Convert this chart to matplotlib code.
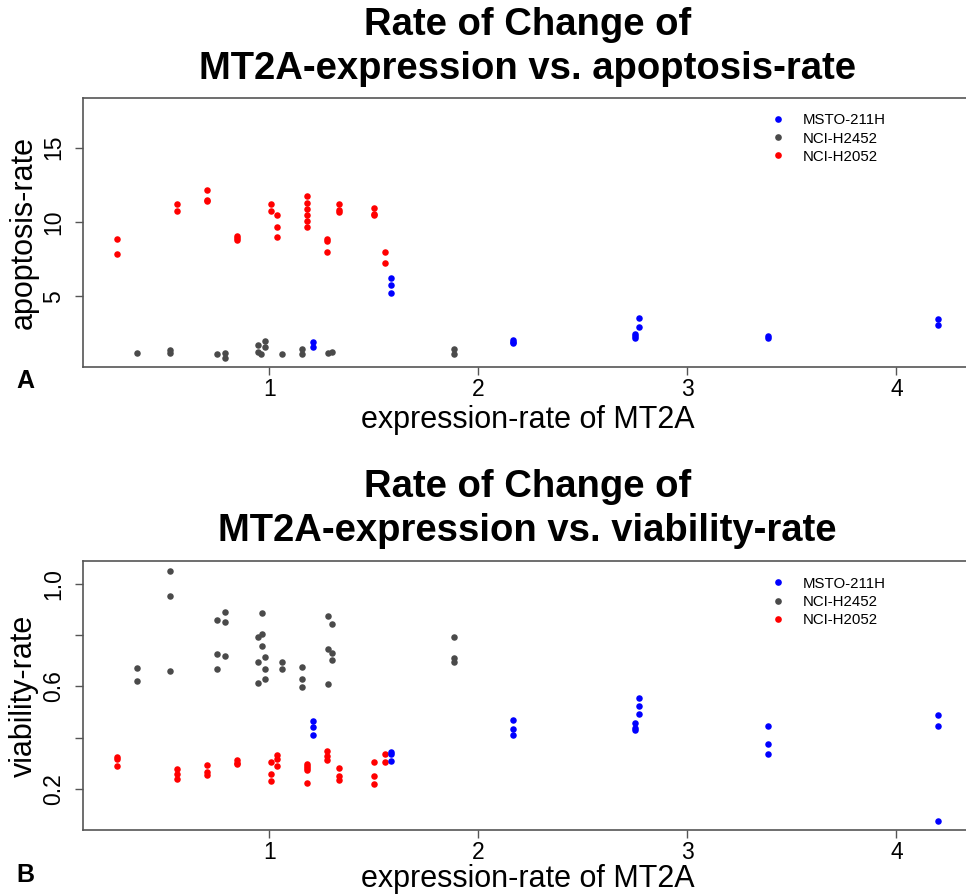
import numpy as np
import matplotlib
matplotlib.use("Agg")
import matplotlib.pyplot as plt
from matplotlib.lines import Line2D

plt.rcParams['font.family'] = ['Liberation Sans', 'DejaVu Sans']

groups = ["MSTO-211H", "NCI-H2452", "NCI-H2052"]
colors = ["#0000FF", "#4A4A4A", "#FF0000"]

# panel A: apoptosis-rate
apop_x_msto = [1.208, 1.208, 1.581, 1.581, 1.581, 2.166, 2.166, 2.166, 2.75, 2.75, 2.75,
               2.769, 2.769, 3.386, 3.386, 4.198, 4.198]
apop_y_msto = [1.92, 1.61, 6.2, 5.73, 5.2, 2.05, 1.95, 1.85, 2.45, 2.3, 2.2,
               3.56, 2.93, 2.35, 2.2, 3.45, 3.09]
apop_x_h2452 = [0.367, 0.525, 0.525, 0.748, 0.789, 0.789, 0.944, 0.944, 0.962, 0.98, 0.98,
                1.061, 1.157, 1.157, 1.282, 1.298, 1.882, 1.882]
apop_y_h2452 = [1.2, 1.35, 1.2, 1.12, 1.2, 0.87, 1.7, 1.27, 1.12, 2.01, 1.57,
                1.12, 1.43, 1.1, 1.16, 1.25, 1.45, 1.12]
apop_x_h2052 = [0.27, 0.27, 0.56, 0.56, 0.70, 0.70, 0.70, 0.845, 0.845, 0.845,
                1.008, 1.008, 1.035, 1.035, 1.035, 1.182, 1.182, 1.182, 1.182, 1.182, 1.182,
                1.276, 1.276, 1.276, 1.332, 1.332, 1.332, 1.501, 1.501, 1.501, 1.554, 1.554]
apop_y_h2052 = [8.85, 7.86, 11.2, 10.75, 12.15, 11.5, 11.42, 9.07, 8.9, 8.75,
                11.2, 10.71, 10.44, 9.66, 8.96, 11.76, 11.29, 10.87, 10.44, 10.04, 9.66,
                8.85, 8.69, 8.0, 11.2, 10.8, 10.68, 10.93, 10.53, 10.44, 7.95, 7.21]

# panel B: viability-rate
via_x_msto = [1.208, 1.208, 1.208, 1.581, 1.581, 1.581, 2.166, 2.166, 2.166, 2.75, 2.75, 2.75,
              2.769, 2.769, 2.769, 3.386, 3.386, 3.386, 4.198, 4.198, 4.198]
via_y_msto = [0.465, 0.441, 0.411, 0.345, 0.335, 0.309, 0.47, 0.433, 0.41, 0.456, 0.436, 0.428,
              0.556, 0.525, 0.491, 0.444, 0.376, 0.336, 0.487, 0.444, 0.075]
via_x_h2452 = [0.367, 0.367, 0.525, 0.525, 0.525, 0.748, 0.748, 0.748, 0.789, 0.789, 0.789,
               0.944, 0.944, 0.944, 0.963, 0.963, 0.963, 0.98, 0.98, 0.98, 1.061, 1.061,
               1.155, 1.155, 1.155, 1.282, 1.282, 1.282, 1.298, 1.298, 1.298, 1.882, 1.882, 1.882]
via_y_h2452 = [0.671, 0.62, 1.052, 0.953, 0.66, 0.861, 0.728, 0.669, 0.891, 0.851, 0.719,
               0.793, 0.694, 0.613, 0.886, 0.805, 0.757, 0.716, 0.667, 0.629, 0.696, 0.667,
               0.676, 0.63, 0.599, 0.877, 0.745, 0.608, 0.846, 0.732, 0.703, 0.793, 0.711, 0.696]
via_x_h2052 = [0.27, 0.27, 0.27, 0.56, 0.56, 0.56, 0.70, 0.70, 0.70, 0.845, 0.845, 0.845,
               1.008, 1.008, 1.008, 1.035, 1.035, 1.035, 1.182, 1.182, 1.182, 1.182, 1.182,
               1.276, 1.276, 1.276, 1.332, 1.332, 1.332, 1.501, 1.501, 1.501, 1.554, 1.554]
via_y_h2052 = [0.325, 0.315, 0.288, 0.277, 0.259, 0.238, 0.294, 0.266, 0.252, 0.311, 0.302, 0.295,
               0.306, 0.257, 0.229, 0.332, 0.317, 0.288, 0.298, 0.29, 0.28, 0.272, 0.222,
               0.347, 0.328, 0.312, 0.282, 0.251, 0.234, 0.303, 0.248, 0.219, 0.337, 0.306]

panels = [
    dict(title="Rate of Change of\nMT2A-expression vs. apoptosis-rate", ylabel="apoptosis-rate",
         letter="A", letter_y=381, pos=[0.0859, 0.5904, 0.92, 0.3002], ylim=(0.24, 18.33),
         yticks=[5, 10, 15], ylabels=["5", "10", "15"], leg_y=0.8735, xpad=3,
         xs=[apop_x_msto, apop_x_h2452, apop_x_h2052], ys=[apop_y_msto, apop_y_h2452, apop_y_h2052]),
    dict(title="Rate of Change of\nMT2A-expression vs. viability-rate", ylabel="viability-rate",
         letter="B", letter_y=875, pos=[0.0859, 0.0733, 0.92, 0.3009], ylim=(0.037, 1.092),
         yticks=[0.2, 0.4, 0.6, 0.8, 1.0], ylabels=["0.2", "", "0.6", "", "1.0"], leg_y=0.3565, xpad=0,
         xs=[via_x_msto, via_x_h2452, via_x_h2052], ys=[via_y_msto, via_y_h2452, via_y_h2052]),
]

fig = plt.figure(figsize=(9.66, 8.96), dpi=100)

for p in panels:
    ax = fig.add_axes(p["pos"])
    for i in [1, 2, 0]:
        ax.scatter(p["xs"][i], p["ys"][i], s=22, color=colors[i], linewidths=0, zorder=3)
    ax.set_xlim(0.109, 4.36)
    ax.set_ylim(*p["ylim"])
    ax.set_xticks([1, 2, 3, 4])
    ax.set_yticks(p["yticks"])
    ax.set_yticklabels(p["ylabels"], rotation=90, va="center")
    ax.tick_params(direction="out", length=6, width=1, color="#555555", labelsize=16.5)
    ax.tick_params(axis="x", pad=2)
    ax.tick_params(axis="y", pad=7)
    for sp in ax.spines.values():
        sp.set_color("#555555")
        sp.set_linewidth(1.2)
    ax.set_xlabel("expression-rate of MT2A", fontsize=22, labelpad=p["xpad"])
    ax.set_ylabel(p["ylabel"], fontsize=22, labelpad=2)
    ax.set_title(p["title"], fontsize=27.5, fontweight="bold", pad=14, linespacing=1.28)
    handles = [Line2D([], [], ls="", marker="o", markersize=4.8, markeredgewidth=0, color=c)
               for c in colors]
    ax.legend(handles=handles, labels=groups, loc="upper left",
              bbox_to_anchor=(0.798, p["leg_y"]), bbox_transform=fig.transFigure,
              frameon=False, fontsize=10.8, handlelength=1.0, handletextpad=1.1,
              labelspacing=0.28, borderpad=0, borderaxespad=0, numpoints=1)
    # panel letter
    fig.text(25 / 966, 1 - p["letter_y"] / 896, p["letter"], fontsize=18,
             fontweight="bold", ha="center", va="center")

fig.savefig("out.png", dpi=100)
